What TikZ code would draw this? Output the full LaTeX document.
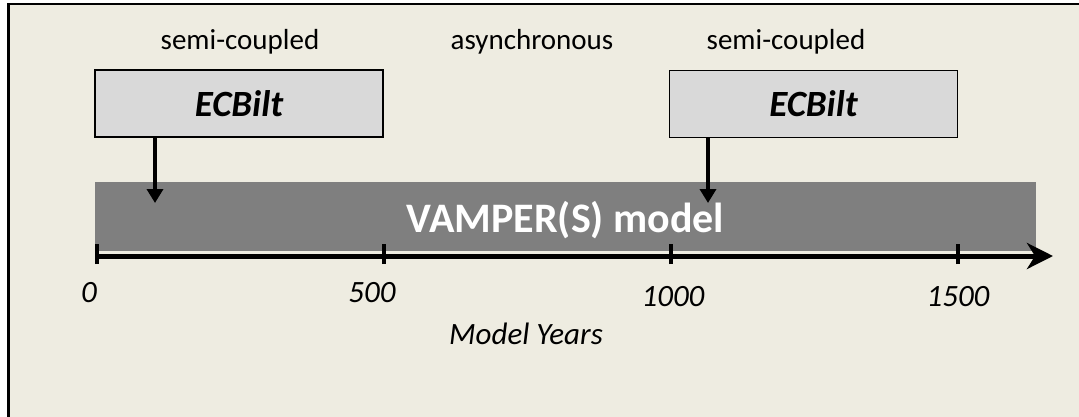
\documentclass[tikz,border=0pt]{standalone}
\usepackage{fontspec}
\setmainfont{Carlito}
\usetikzlibrary{arrows.meta}

\definecolor{paper}{HTML}{EEECE1}
\definecolor{boxgray}{HTML}{D9D9D9}
\definecolor{bargray}{HTML}{7F7F7F}

\begin{document}
\begin{tikzpicture}[x=1pt,y=-1pt,
              >={Triangle[length=14pt,width=16pt]},
              model/.style={draw=black,line width=1.6pt,fill=boxgray,
                minimum width=288pt,minimum height=67pt,
                font=\fontsize{37}{40}\selectfont\bfseries\itshape},
              phase/.style={font=\fontsize{29}{32}\selectfont},
              yearlbl/.style={font=\fontsize{31}{34}\selectfont\itshape},
              couple/.style={draw=black,line width=4.5pt}]
    \clip (0,0) rectangle (1079,416);
    \fill[white] (0,0) rectangle (1079,416);
    \draw[line width=2.5pt,fill=paper] (8.5,4) rectangle (1100,440);

    \node[phase] (p1) at (240,42) {semi-coupled};
    \node[phase] (p2) at (532,42) {asynchronous};
    \node[phase] (p3) at (786,42) {semi-coupled};

    \node[model] (ecb1) at (239,103.5) {ECBilt};
    \node[model] (ecb2) at (813.5,104) {ECBilt};

    \node[fill=bargray,minimum width=941pt,minimum height=69pt,
          text height=41pt,text depth=10pt,
          text=white,font=\fontsize{42}{46}\selectfont\bfseries]
          (vamper) at (565.5,216.5) {VAMPER(S) model};

    % coupling steps
    \coordinate (in1) at (155,203);
    \coordinate (in2) at (708,203);
    \path [->] (ecb1.south -| in1) edge[couple] (in1);
    \path [->] (ecb2.south -| in2) edge[couple] (in2);

    % time axis
    \coordinate (t0) at (97,256);
    \coordinate (tend) at (1053,256);
    \draw[line width=5pt,-{Stealth[length=26pt,width=26pt,inset=8pt]}]
        (t0) -- (tend);
    \foreach \i in {0,...,3}
        \draw[line width=4pt] ([xshift=287*\i pt,yshift=-8pt]t0)
            -- ([xshift=287*\i pt,yshift=12pt]t0);

    \node[yearlbl] (y0) at (89,293) {0};
    \node[yearlbl] (y1) at (372,293) {500};
    \node[yearlbl] (y2) at (673,297) {1000};
    \node[yearlbl] (y3) at (958,297) {1500};
    \node[yearlbl] (axis) at (526,334) {Model Years};
\end{tikzpicture}
\end{document}
